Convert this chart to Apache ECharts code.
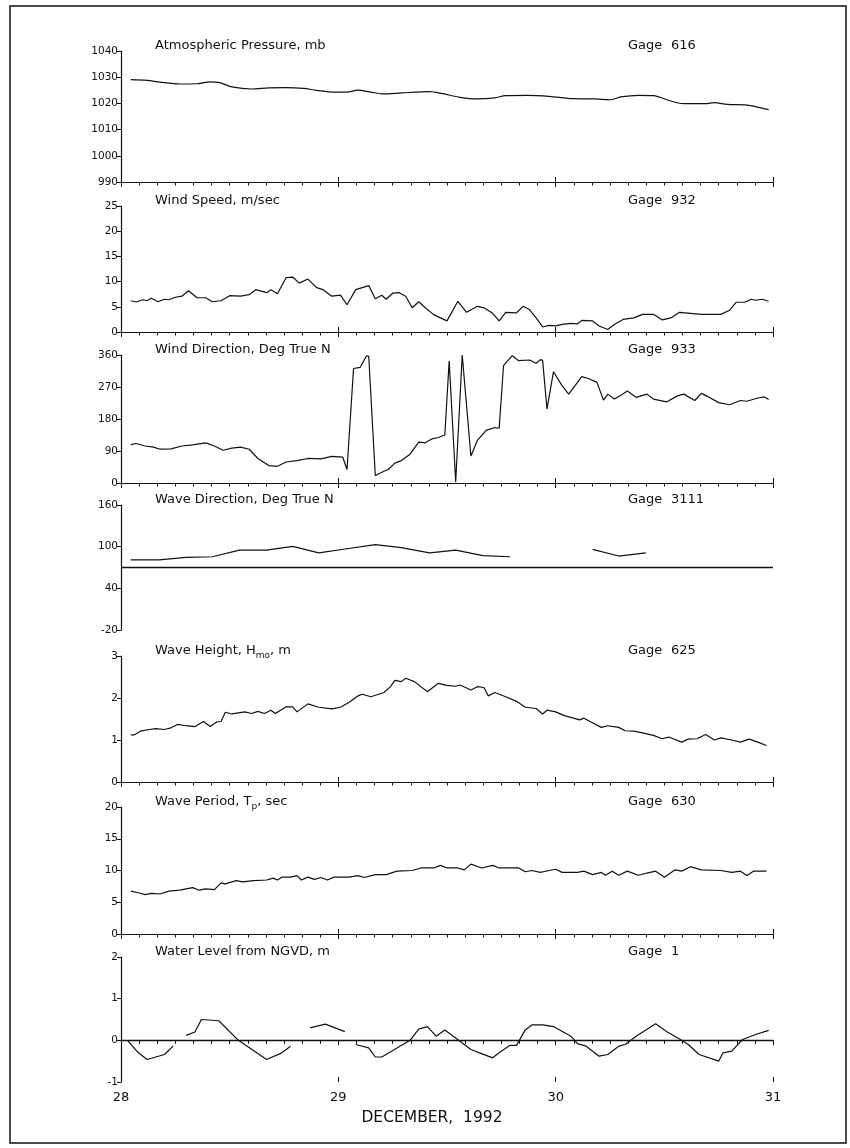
<!DOCTYPE html>
<html><head><meta charset="utf-8">
<script src="https://cdn.jsdelivr.net/npm/echarts/dist/echarts.min.js"></script>
<style>html,body{margin:0;padding:0;background:#fff}#c{width:850px;height:1148px}</style>
</head><body><div id="c"></div>
<script>
// ---- data: [day of December 1992, value] ----
const pressure = [[28.045,1029.1],[28.12,1028.8],[28.18,1028.1],[28.27,1027.4],[28.35,1027.5],[28.41,1028.2],[28.45,1028.0],[28.51,1026.3],[28.6,1025.5],[28.68,1025.9],[28.76,1026.0],[28.84,1025.7],[28.9,1025.0],[28.98,1024.3],[29.04,1024.3],[29.09,1025.1],[29.15,1024.3],[29.21,1023.6],[29.29,1024.0],[29.42,1024.5],[29.48,1023.7],[29.56,1022.3],[29.64,1021.7],[29.72,1022.1],[29.77,1023.0],[29.87,1023.1],[29.97,1022.7],[30.08,1021.8],[30.18,1021.7],[30.25,1021.4],[30.3,1022.5],[30.38,1023.1],[30.45,1023.0],[30.53,1020.9],[30.59,1019.9],[30.69,1019.9],[30.73,1020.3],[30.79,1019.6],[30.87,1019.4],[30.93,1018.6],[30.98,1017.6]];

const windSpeed = [[28.045,6.2],[28.07,5.95],[28.1,6.4],[28.12,6.2],[28.14,6.7],[28.17,6.0],[28.2,6.5],[28.22,6.4],[28.25,6.9],[28.28,7.1],[28.31,8.2],[28.35,6.8],[28.39,6.8],[28.42,6.0],[28.46,6.2],[28.5,7.2],[28.55,7.1],[28.59,7.4],[28.62,8.4],[28.67,7.8],[28.69,8.4],[28.72,7.6],[28.76,10.8],[28.79,10.9],[28.82,9.7],[28.86,10.5],[28.9,8.8],[28.93,8.4],[28.97,7.1],[29.01,7.3],[29.04,5.4],[29.08,8.4],[29.14,9.2],[29.17,6.6],[29.2,7.3],[29.22,6.5],[29.25,7.7],[29.28,7.8],[29.31,7.1],[29.34,4.8],[29.37,6.0],[29.4,4.8],[29.44,3.4],[29.47,2.8],[29.5,2.2],[29.55,6.1],[29.59,3.9],[29.64,5.1],[29.67,4.8],[29.71,3.7],[29.74,2.2],[29.77,3.9],[29.82,3.8],[29.85,5.1],[29.88,4.4],[29.91,2.8],[29.94,1.0],[29.97,1.3],[30.0,1.2],[30.03,1.5],[30.07,1.7],[30.1,1.6],[30.12,2.3],[30.17,2.2],[30.2,1.2],[30.24,0.5],[30.27,1.5],[30.31,2.5],[30.36,2.8],[30.4,3.5],[30.45,3.5],[30.49,2.4],[30.53,2.8],[30.57,3.9],[30.62,3.7],[30.67,3.5],[30.76,3.5],[30.8,4.3],[30.83,5.9],[30.87,5.9],[30.9,6.5],[30.92,6.3],[30.95,6.5],[30.98,6.1]];

const windDir = [[28.045,108],[28.07,111],[28.11,104],[28.15,101],[28.18,95],[28.23,96],[28.28,104],[28.33,107],[28.39,113],[28.43,104],[28.47,92],[28.51,98],[28.55,101],[28.59,95],[28.63,69],[28.68,49],[28.72,47],[28.76,59],[28.81,63],[28.86,69],[28.92,68],[28.97,75],[29.02,73],[29.04,38],[29.07,322],[29.1,325],[29.13,358],[29.14,356],[29.17,21],[29.21,33],[29.23,38],[29.26,56],[29.29,63],[29.33,81],[29.37,115],[29.4,113],[29.43,124],[29.46,128],[29.49,135],[29.51,343],[29.54,3],[29.57,360],[29.61,76],[29.64,120],[29.68,148],[29.72,156],[29.74,154],[29.76,330],[29.8,358],[29.83,344],[29.88,346],[29.91,337],[29.93,347],[29.94,345],[29.96,208],[29.99,313],[30.03,273],[30.06,250],[30.12,299],[30.15,294],[30.19,283],[30.22,233],[30.24,250],[30.27,236],[30.3,247],[30.33,259],[30.37,241],[30.42,250],[30.45,236],[30.51,228],[30.56,245],[30.59,250],[30.64,232],[30.67,252],[30.7,243],[30.75,226],[30.8,220],[30.85,232],[30.88,230],[30.93,239],[30.96,242],[30.98,235]];

const waveDir = [[28.045,81],[28.175,81],[28.3,84.5],[28.42,85.5],[28.545,95],[28.67,95],[28.79,100.5],[28.91,91],[29.04,97],[29.17,103],[29.29,98.5],[29.42,91],[29.54,95],[29.665,87],[29.79,85.5],[29.95,null],[30.17,96],[30.29,86.5],[30.415,91]];
const waveDirRef = 70;

const waveHeight = [[28.045,1.12],[28.06,1.12],[28.09,1.21],[28.13,1.25],[28.16,1.27],[28.2,1.25],[28.23,1.29],[28.26,1.37],[28.3,1.34],[28.34,1.32],[28.38,1.44],[28.41,1.32],[28.44,1.43],[28.46,1.44],[28.48,1.66],[28.51,1.62],[28.57,1.67],[28.6,1.63],[28.63,1.68],[28.66,1.63],[28.69,1.71],[28.71,1.63],[28.76,1.79],[28.79,1.79],[28.81,1.67],[28.86,1.86],[28.91,1.78],[28.97,1.74],[29.01,1.78],[29.05,1.9],[29.09,2.05],[29.11,2.09],[29.15,2.03],[29.21,2.13],[29.24,2.27],[29.26,2.42],[29.29,2.39],[29.31,2.47],[29.35,2.39],[29.41,2.15],[29.46,2.35],[29.5,2.3],[29.54,2.28],[29.56,2.31],[29.61,2.19],[29.64,2.27],[29.67,2.25],[29.69,2.05],[29.72,2.13],[29.77,2.03],[29.82,1.92],[29.86,1.78],[29.91,1.75],[29.94,1.62],[29.96,1.71],[30.0,1.67],[30.04,1.58],[30.07,1.54],[30.11,1.48],[30.13,1.52],[30.18,1.38],[30.21,1.3],[30.24,1.34],[30.29,1.3],[30.32,1.22],[30.36,1.21],[30.4,1.17],[30.45,1.11],[30.49,1.03],[30.52,1.07],[30.58,0.95],[30.61,1.02],[30.65,1.03],[30.69,1.13],[30.73,1.0],[30.76,1.05],[30.81,1.0],[30.85,0.95],[30.89,1.02],[30.93,0.95],[30.97,0.87]];

const wavePeriod = [[28.045,6.75],[28.08,6.5],[28.11,6.2],[28.14,6.4],[28.18,6.3],[28.22,6.75],[28.27,6.9],[28.3,7.1],[28.33,7.3],[28.36,6.9],[28.39,7.1],[28.43,7.0],[28.46,8.05],[28.48,7.9],[28.53,8.4],[28.56,8.2],[28.61,8.4],[28.67,8.5],[28.7,8.8],[28.72,8.5],[28.74,8.95],[28.78,8.95],[28.81,9.2],[28.83,8.5],[28.86,8.95],[28.89,8.6],[28.92,8.9],[28.95,8.5],[28.98,8.95],[29.05,8.95],[29.09,9.2],[29.12,8.9],[29.17,9.35],[29.22,9.35],[29.27,9.9],[29.34,10.0],[29.38,10.4],[29.44,10.4],[29.47,10.8],[29.5,10.4],[29.55,10.4],[29.58,10.1],[29.61,11.0],[29.66,10.4],[29.71,10.8],[29.74,10.4],[29.83,10.4],[29.86,9.8],[29.89,10.0],[29.93,9.7],[29.97,10.0],[30.0,10.2],[30.03,9.7],[30.1,9.7],[30.13,9.9],[30.17,9.35],[30.21,9.7],[30.23,9.25],[30.26,9.9],[30.29,9.25],[30.33,9.9],[30.38,9.25],[30.42,9.6],[30.46,9.9],[30.5,8.95],[30.55,10.1],[30.58,9.9],[30.62,10.6],[30.67,10.1],[30.76,10.0],[30.81,9.7],[30.85,9.9],[30.88,9.2],[30.91,9.9],[30.97,9.9]];

const waterLevel = [[28.03,0.0],[28.08,-0.3],[28.12,-0.46],[28.2,-0.34],[28.24,-0.14],[28.27,null],[28.3,0.12],[28.34,0.2],[28.37,0.5],[28.45,0.47],[28.54,0.0],[28.67,-0.46],[28.74,-0.3],[28.78,-0.14],[28.83,null],[28.87,0.3],[28.94,0.39],[29.03,0.21],[29.055,null],[29.08,-0.1],[29.14,-0.18],[29.17,-0.4],[29.2,-0.4],[29.33,0.0],[29.37,0.27],[29.41,0.33],[29.45,0.1],[29.49,0.25],[29.56,-0.02],[29.61,-0.22],[29.65,-0.3],[29.71,-0.42],[29.74,-0.3],[29.79,-0.12],[29.82,-0.12],[29.86,0.25],[29.89,0.37],[29.94,0.37],[29.99,0.33],[30.07,0.1],[30.1,-0.08],[30.14,-0.14],[30.2,-0.38],[30.24,-0.34],[30.29,-0.14],[30.32,-0.1],[30.37,0.1],[30.46,0.4],[30.51,0.21],[30.57,0.03],[30.61,-0.1],[30.66,-0.34],[30.75,-0.5],[30.77,-0.3],[30.81,-0.26],[30.86,0.02],[30.92,0.14],[30.98,0.24]];
const waterRef = 0;

const panelTitles = ['Atmospheric Pressure, mb','Wind Speed, m/sec','Wind Direction, Deg True N','Wave Direction, Deg True N','Wave Height, H{s|mo}, m','Wave Period, T{s|p}, sec','Water Level from NGVD, m'];
const gageNumbers = ['616','932','933','3111','625','630','1'];
const yMins = [990,0,0,-20,0,0,-1];
const yMaxs = [1040,25,360,160,3,20,2];
const yIntervals = [10,5,90,60,1,5,1];
const dayMin = 28, dayMax = 31;
const xAxisName = 'DECEMBER,  1992';

// ---- layout ----
const tops = [51,206,355,505,656,807,957];
const bottoms = [182,332,483,630,782,934,1082];
const L = 121, W = 652;
const ink = '#111';
const font = 'DejaVu Sans';
const seriesData = [pressure, windSpeed, windDir, waveDir, waveHeight, wavePeriod, waterLevel];

const grid = [], xAxis = [], yAxis = [], series = [], graphic = [];
for (let i = 0; i < 7; i++) {
  grid.push({left: L, width: W, top: tops[i], height: bottoms[i] - tops[i]});
  const showX = i !== 3;
  xAxis.push({gridIndex: i, type: 'value', min: dayMin, max: dayMax, interval: 1, position: 'bottom', show: showX,
    axisLine: {show: true, lineStyle: {color: ink, width: 1.2}},
    axisTick: {show: true, length: 5, lineStyle: {color: ink}},
    minorTick: {show: true, splitNumber: 12, length: 3.5, lineStyle: {color: ink}},
    axisLabel: {show: i === 6, color: ink, fontSize: 13, margin: 9, fontFamily: font},
    splitLine: {show: false}, minorSplitLine: {show: false}});
  xAxis.push({gridIndex: i, type: 'value', min: dayMin, max: dayMax, interval: 1, position: 'bottom', show: showX,
    axisLine: {show: false}, axisTick: {show: true, inside: true, length: 5, lineStyle: {color: ink}},
    axisLabel: {show: false}, splitLine: {show: false}});
  yAxis.push({gridIndex: i, type: 'value', min: yMins[i], max: yMaxs[i], interval: yIntervals[i],
    axisLine: {show: true, lineStyle: {color: ink, width: 1.2}},
    axisTick: {show: true, length: 4, lineStyle: {color: ink}},
    axisLabel: {color: ink, fontSize: 10.5, margin: 3, fontFamily: font, formatter: v => String(v)},
    splitLine: {show: false}});
  const s = {type: 'line', xAxisIndex: 2 * i, yAxisIndex: i, data: seriesData[i], showSymbol: false, symbol: 'none',
    connectNulls: false, smooth: i === 0 ? 0.3 : false, lineStyle: {color: ink, width: 1.2}, silent: true, animation: false};
  if (i === 3 || i === 6) {
    s.markLine = {silent: true, symbol: 'none', animation: false, label: {show: false},
      lineStyle: {color: ink, width: 1.3, type: 'solid'}, data: [{yAxis: i === 3 ? waveDirRef : waterRef}]};
  }
  series.push(s);
  graphic.push({type: 'text', left: 155, top: tops[i] - 12, style: {text: panelTitles[i], fill: ink, fontSize: 13, fontFamily: font,
    rich: {s: {fontSize: 9, fill: ink, fontFamily: font, padding: [10, 0, 0, 0]}}}});
  graphic.push({type: 'text', left: 628, top: tops[i] - 12, style: {text: 'Gage', fill: ink, fontSize: 13, fontFamily: font}});
  graphic.push({type: 'text', left: 671, top: tops[i] - 12, style: {text: gageNumbers[i], fill: ink, fontSize: 13, fontFamily: font}});
}
graphic.push({type: 'text', x: 432, y: 1118, style: {text: xAxisName, fill: ink, fontSize: 15.5, fontFamily: font, align: 'center', verticalAlign: 'middle'}});
graphic.push({type: 'rect', shape: {x: 10, y: 6, width: 836, height: 1137}, style: {fill: 'none', stroke: ink, lineWidth: 1.5}, silent: true});

const chart = echarts.init(document.getElementById('c'), null, {renderer: 'canvas'});
chart.setOption({animation: false, backgroundColor: '#fff', grid, xAxis, yAxis, series, graphic});
</script></body></html>
